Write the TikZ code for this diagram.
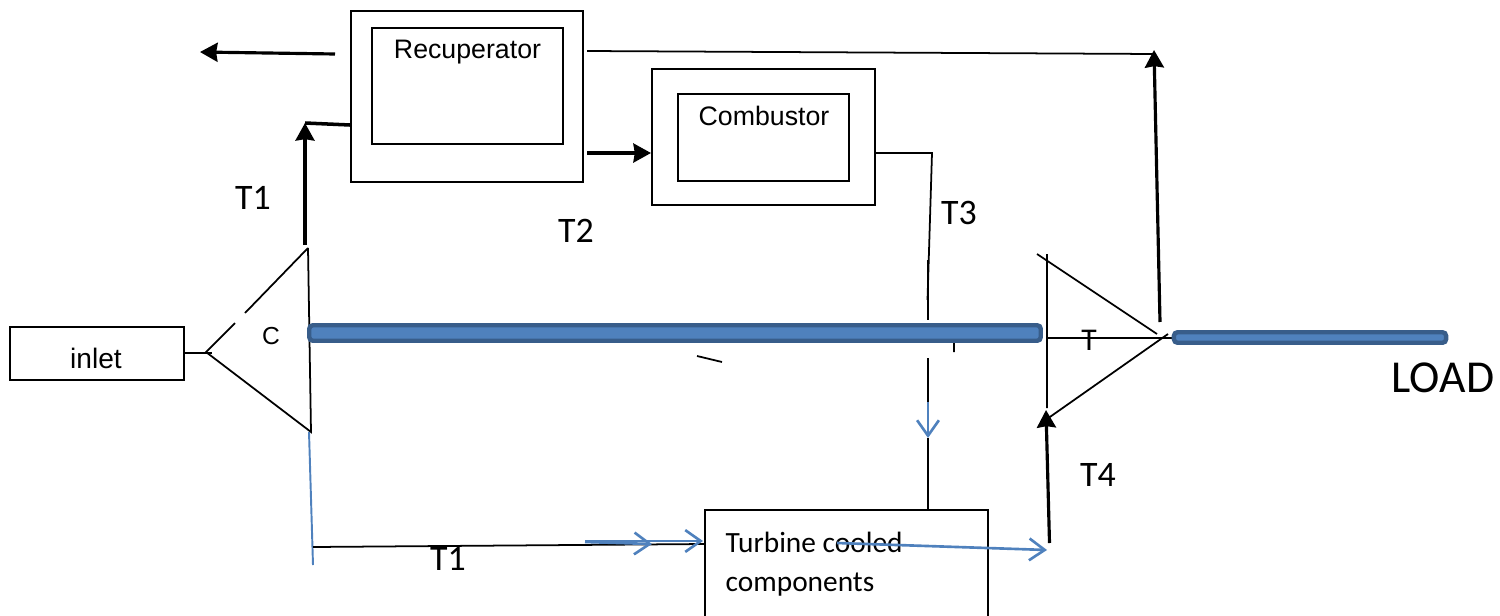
\documentclass[tikz,border=0pt]{standalone}
\usepackage{fontspec}
\setmainfont{Liberation Sans}
\newfontfamily\labelfont{Carlito}
\usetikzlibrary{arrows.meta}
\definecolor{shaftblue}{HTML}{4F81BD}
\definecolor{shaftedge}{HTML}{385D8A}
\tikzset{
    thinline/.style={draw=black, line width=0.5pt},
    flow/.style={draw=black, line width=0.9pt, -{Stealth[length=5pt,width=5.4pt,inset=0.4pt]}},
    bleed/.style={draw=shaftblue, line width=0.75pt, -{Straight Barb[length=4.4pt,width=6.2pt]}},
    box/.style={draw=black, line width=0.55pt, fill=white, inner sep=0pt},
    shaft/.style={draw=shaftedge, fill=shaftblue, line width=1.25pt, rounded corners=1pt, inner sep=0pt},
    boxtext/.style={font=\fontsize{7.6}{9}\selectfont, inner sep=0pt},
    cooltext/.style={font=\labelfont\fontsize{8.35}{10}\selectfont, inner sep=0pt, anchor=west},
    templabel/.style={font=\labelfont\fontsize{10.2}{12}\selectfont, inner sep=0pt}}
\begin{document}
\begin{tikzpicture}[x=0.01cm, y=-0.01cm]
\useasboundingbox (0,0) rectangle (1500,615);
% boxes
\node[box, minimum width=2.32cm, minimum height=1.71cm] (recupout) at (467,96.5) {};
\node[box, minimum width=1.91cm, minimum height=1.16cm] (recupin) at (467.5,86) {};
\node[box, minimum width=2.23cm, minimum height=1.36cm] (combout) at (763.5,137) {};
\node[box, minimum width=1.71cm, minimum height=0.87cm] (combin) at (763.5,137.5) {};
\node[box, minimum width=1.74cm, minimum height=0.53cm] (inlet) at (97,353.5) {};
\node[box, minimum width=2.83cm, minimum height=1.40cm] (cooled) at (846.5,580) {};
\node[boxtext] (recuptext) at (467.5,52) {Recuperator};
\node[boxtext] (combtext) at (764,116) {Combustor};
\node[boxtext, font=\fontsize{8}{9}\selectfont] (inlettext) at (96,358) {inlet};
\node[cooltext] (cooledtext) at (725,542) {Turbine cooled};
\node[cooltext] (cooledtextb) at (725,585) {components};
% compressor and turbine
\coordinate (ca) at (308,248);
\coordinate (cb) at (206,352);
\coordinate (cc) at (311,432);
\coordinate (cg1) at (245,313);
\coordinate (cg2) at (235,323);
\coordinate (ta) at (1037,254);
\coordinate (tb) at (1157,334);
\coordinate (tc) at (1168,334);
\coordinate (td) at (1047,419);
\coordinate (te) at (1047,254);
\coordinate (tf) at (1047,408);
\coordinate (tg) at (1047,338);
\coordinate (th) at (1172,338);
\draw[thinline] (ca) -- (cg1) (cg2) -- (cb) -- (cc) -- (ca);
\draw[thinline] (ta) -- (tb) (tc) -- (td) (te) -- (tf) (tg) -- (th);
% air and gas lines
\coordinate (inletend) at (212,353);
\draw[thinline] (inlet.east |- inletend) -- (inletend);
\coordinate (exa) at (335,54);
\coordinate (exb) at (200,52);
\draw[flow] (exa) -- (exb);
\coordinate (rca) at (350,125);
\coordinate (rcb) at (305,123);
\coordinate (rcc) at (305,245);
\draw[flow] (rcc) -- (rcb);
\draw[draw=black, line width=1pt] (rcb) -- (rca);
\coordinate (hota) at (587,51);
\coordinate (hotb) at (1155,54);
\coordinate (hotc) at (1160,322);
\coordinate (hotd) at (1154,50);
\draw[thinline] (hota) -- (hotb);
\draw[flow] (hotc) -- (hotd);
\coordinate (rtc) at (587,153);
\draw[flow] (rtc) -- (combout.west |- rtc);
\coordinate (cta) at (932,153);
\coordinate (ctb) at (927.5,300);
\coordinate (ctc) at (928,260);
\coordinate (ctd) at (928,320);
\coordinate (cte) at (928,358);
\coordinate (ctf) at (928,402);
\coordinate (ctg) at (928,438);
\draw[thinline] (combout.east |- cta) -- (cta) -- (ctb);
\draw[thinline] (ctc) -- (ctd) (cte) -- (ctf);
\draw[bleed] (ctf) -- (ctg);
\draw[thinline] (ctg) -- (cooled.north -| ctg);
% cooling air
\coordinate (bla) at (309,432);
\coordinate (blb) at (313,565);
\coordinate (blc) at (313,547);
\coordinate (bld) at (705,544);
\draw[draw=shaftblue, line width=0.55pt] (bla) -- (blb);
\draw[thinline] (blc) -- (bld);
\coordinate (baa) at (585,542);
\coordinate (bab) at (652,544);
\coordinate (bac) at (585,541);
\coordinate (bad) at (703,541);
\draw[bleed] (baa) -- (bab);
\draw[bleed] (bac) -- (bad);
\coordinate (bae) at (837,543);
\coordinate (baf) at (1047,550);
\draw[bleed] (bae) -- (baf);
\coordinate (t4a) at (1049.5,543);
\coordinate (t4b) at (1046,410);
\draw[flow] (t4a) -- (t4b);
% small stray ticks
\coordinate (ska) at (954,343);
\coordinate (skb) at (954,352);
\coordinate (skc) at (697,356);
\coordinate (skd) at (722,362);
\draw[thinline] (ska) -- (skb) (skc) -- (skd);
% shafts
\node[shaft, minimum width=7.31cm, minimum height=0.155cm] (shaftmain) at (675,333) {};
\node[shaft, minimum width=2.72cm, minimum height=0.105cm] (shaftload) at (1310,337.5) {};
% labels
\node[boxtext, font=\fontsize{7}{9}\selectfont] (ctext) at (271,336) {C};
\node[templabel, font=\labelfont\fontsize{9}{11}\selectfont] (ttext) at (1089,340) {T};
\node[templabel] (tonea) at (253,198) {T1};
\node[templabel] (ttwo) at (576,231) {T2};
\node[templabel] (tthree) at (959,213) {T3};
\node[templabel] (tfour) at (1098,475) {T4};
\node[templabel] (toneb) at (448,559) {T1};
\node[templabel, font=\labelfont\fontsize{13}{15}\selectfont] (load) at (1443,378) {LOAD};
\end{tikzpicture}
\end{document}
